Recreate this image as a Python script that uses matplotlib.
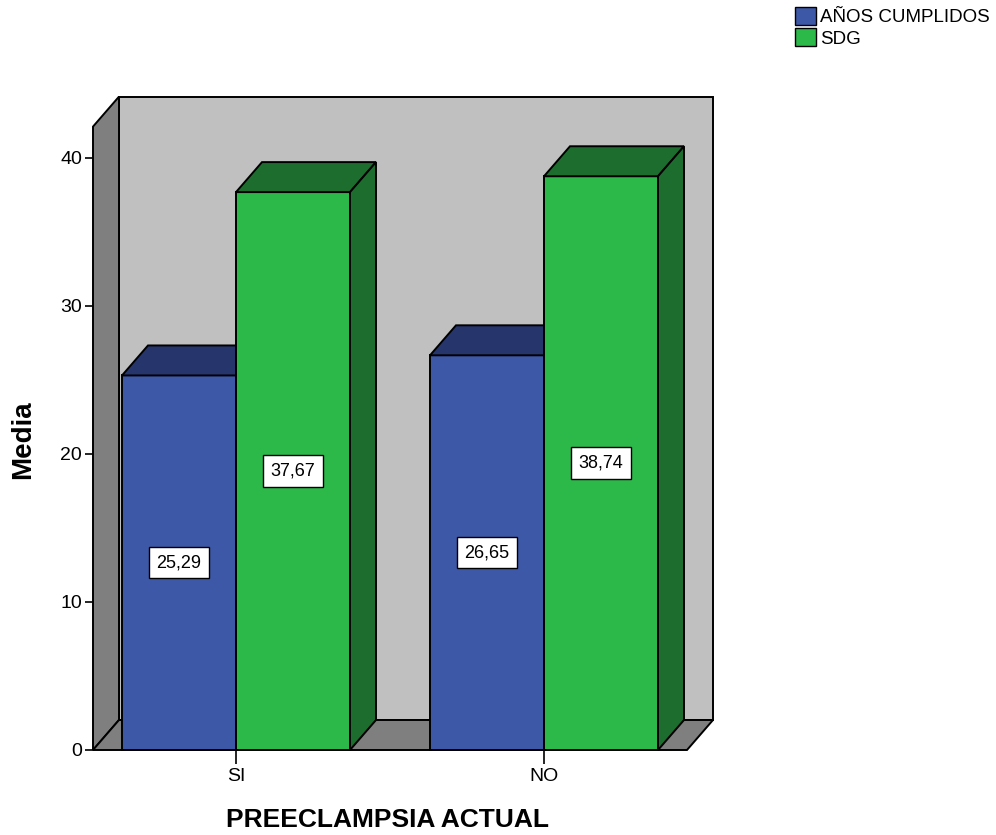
import matplotlib
matplotlib.use("Agg")
import matplotlib.pyplot as plt
from matplotlib.patches import Polygon, Patch

plt.rcParams['font.family'] = ['Liberation Sans', 'DejaVu Sans']

# data
categories = ["SI", "NO"]
series_names = ["AÑOS CUMPLIDOS", "SDG"]
anos_cumplidos = [25.29, 26.65]
sdg = [37.67, 38.74]
value_labels = [["25,29", "26,65"], ["37,67", "38,74"]]
y_ticks = [0, 10, 20, 30, 40]

front_cols = ["#3E58A8", "#2DB84A"]
dark_cols = ["#26356C", "#1D6E2E"]

W, H = 996, 835
fig = plt.figure(figsize=(W / 100, H / 100), dpi=100)

# axes covers front-left corner (93,750) to back-right (712,96) in pixels
px_x = 308.0   # pixels per category unit
px_y = 14.81   # pixels per value unit
left_px, right_px, top_px, bot_px = 93, 712, 96, 750
ax = fig.add_axes([left_px / W, (H - bot_px) / H,
                   (right_px - left_px) / W, (bot_px - top_px) / H])
x0 = -143 / px_x
ax.set_xlim(x0, x0 + (right_px - left_px) / px_x)
ax.set_ylim(0, (bot_px - top_px) / px_y)
for s in ax.spines.values():
    s.set_visible(False)
ax.patch.set_alpha(0)

ddx = 26 / px_x   # depth offset
ddy = 30 / px_y
x_front_r = x0 + 594 / px_x
ytop = 40 + (158 - 127) / px_y  # top of left wall front edge

lw = 1.4
def poly(pts, fc, z):
    ax.add_patch(Polygon(pts, closed=True, fc=fc, ec="black", lw=lw,
                         joinstyle="miter", clip_on=False, zorder=z))

# back wall
poly([(x0 + ddx, ddy), (x0 + ddx, ytop + ddy), (x_front_r + ddx, ytop + ddy),
      (x_front_r + ddx, ddy)], "#C0C0C0", 1)
# left wall
poly([(x0, 0), (x0, ytop), (x0 + ddx, ytop + ddy), (x0 + ddx, ddy)], "#7F7F7F", 2)
# floor
poly([(x0, 0), (x0 + ddx, ddy), (x_front_r + ddx, ddy), (x_front_r, 0)], "#7F7F7F", 2)

# bars
bw = 114 / px_x
series = [anos_cumplidos, sdg]
z = 3
for i, cat in enumerate(categories):
    for j, vals in enumerate(series):
        xl = i - bw if j == 0 else i
        xr = xl + bw
        v = vals[i]
        poly([(xl, 0), (xl, v), (xr, v), (xr, 0)], front_cols[j], z)
        poly([(xl, v), (xl + ddx, v + ddy), (xr + ddx, v + ddy), (xr, v)], dark_cols[j], z)
        poly([(xr, 0), (xr, v), (xr + ddx, v + ddy), (xr + ddx, ddy)], dark_cols[j], z)
        ax.text((xl + xr) / 2, v / 2, value_labels[j][i], ha="center", va="center",
                fontsize=13, zorder=z + 1,
                bbox=dict(boxstyle="square,pad=0.4", fc="white", ec="black", lw=1))
        z += 2

ax.set_yticks(y_ticks)
ax.set_yticklabels([str(t) for t in y_ticks])
ax.set_xticks(range(len(categories)))
ax.set_xticklabels(categories)
ax.tick_params(axis="y", length=6, width=1.2, pad=2, labelsize=14)
ax.tick_params(axis="x", length=10, width=1.2, pad=3, labelsize=14)
ax.set_ylabel("Media", fontsize=20, fontweight="bold", va="center")
ax.set_xlabel("PREECLAMPSIA ACTUAL", fontsize=19, fontweight="bold", va="center")
ax.xaxis.set_label_coords((387 - left_px) / (right_px - left_px), -(820 - bot_px) / (bot_px - top_px))
ax.yaxis.set_label_coords(-(93 - 23) / (right_px - left_px), (bot_px - 440) / (bot_px - top_px))

handles = [Patch(fc=front_cols[k], ec="black", lw=1) for k in range(2)]
fig.legend(handles, series_names, loc="upper left", bbox_to_anchor=(795 / W, 1 - 7 / H),
           frameon=False, fontsize=13.5, handlelength=1.1, handleheight=1.1,
           handletextpad=0.25, labelspacing=0.1, borderpad=0, borderaxespad=0)

fig.savefig("out.png", dpi=100)
